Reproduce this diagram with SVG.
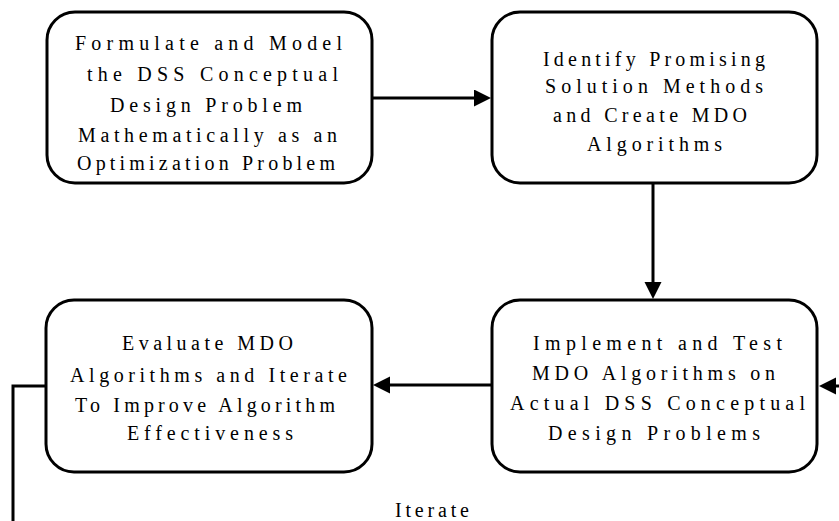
<svg xmlns="http://www.w3.org/2000/svg" width="839" height="521" viewBox="0 0 839 521">
  <style>
    .box { fill: #ffffff; stroke: #000000; stroke-width: 3; }
    .lbl { font-family: "Liberation Serif", "Times New Roman", serif; font-size: 20px; fill: #000000; }
    .wire { fill: none; stroke: #000000; stroke-width: 3; }
  </style>
  <defs>
    <marker id="head" markerUnits="userSpaceOnUse" markerWidth="18" markerHeight="18" refX="0" refY="8.5" orient="auto">
      <path d="M0,0 L17,8.5 L0,17 Z" fill="#000000"/>
    </marker>
  </defs>

  <rect width="839" height="521" fill="#ffffff"/>

  <g id="connectors">
    <line class="wire" x1="372" y1="98" x2="474" y2="98" marker-end="url(#head)"/>
    <line class="wire" x1="653" y1="183" x2="653" y2="282" marker-end="url(#head)"/>
    <line class="wire" x1="492" y1="385" x2="390" y2="385" marker-end="url(#head)"/>
    <polyline class="wire" points="46,386 13,386 13,521"/>
    <line class="wire" x1="839" y1="386" x2="836" y2="386" marker-end="url(#head)"/>
    <text class="lbl" x="395" y="517" textLength="74" lengthAdjust="spacing">Iterate</text>
  </g>

  <g id="formulate">
    <rect class="box" x="47" y="12" width="325" height="171" rx="28" ry="28"/>
    <text class="lbl" x="75" y="50" textLength="267" lengthAdjust="spacing">Formulate and Model</text>
    <text class="lbl" x="87" y="81" textLength="251" lengthAdjust="spacing">the DSS Conceptual</text>
    <text class="lbl" x="110" y="112" textLength="192" lengthAdjust="spacing">Design Problem</text>
    <text class="lbl" x="78" y="142" textLength="259" lengthAdjust="spacing">Mathematically as an</text>
    <text class="lbl" x="77" y="170" textLength="258" lengthAdjust="spacing">Optimization Problem</text>
  </g>

  <g id="identify">
    <rect class="box" x="492" y="12" width="325" height="171" rx="28" ry="28"/>
    <text class="lbl" x="543" y="66" textLength="222" lengthAdjust="spacing">Identify Promising</text>
    <text class="lbl" x="545" y="93" textLength="218" lengthAdjust="spacing">Solution Methods</text>
    <text class="lbl" x="553" y="122" textLength="194" lengthAdjust="spacing">and Create MDO</text>
    <text class="lbl" x="587" y="151" textLength="135" lengthAdjust="spacing">Algorithms</text>
  </g>

  <g id="evaluate">
    <rect class="box" x="46" y="300" width="326" height="172" rx="28" ry="28"/>
    <text class="lbl" x="122" y="350" textLength="171" lengthAdjust="spacing">Evaluate MDO</text>
    <text class="lbl" x="70" y="382" textLength="277" lengthAdjust="spacing">Algorithms and Iterate</text>
    <text class="lbl" x="75" y="412" textLength="260" lengthAdjust="spacing">To Improve Algorithm</text>
    <text class="lbl" x="127" y="440" textLength="166" lengthAdjust="spacing">Effectiveness</text>
  </g>

  <g id="implement">
    <rect class="box" x="492" y="300" width="325" height="172" rx="28" ry="28"/>
    <text class="lbl" x="533" y="350" textLength="249" lengthAdjust="spacing">Implement and Test</text>
    <text class="lbl" x="532" y="380" textLength="243" lengthAdjust="spacing">MDO Algorithms on</text>
    <text class="lbl" x="510" y="410" textLength="295" lengthAdjust="spacing">Actual DSS Conceptual</text>
    <text class="lbl" x="548" y="440" textLength="212" lengthAdjust="spacing">Design Problems</text>
  </g>
</svg>
